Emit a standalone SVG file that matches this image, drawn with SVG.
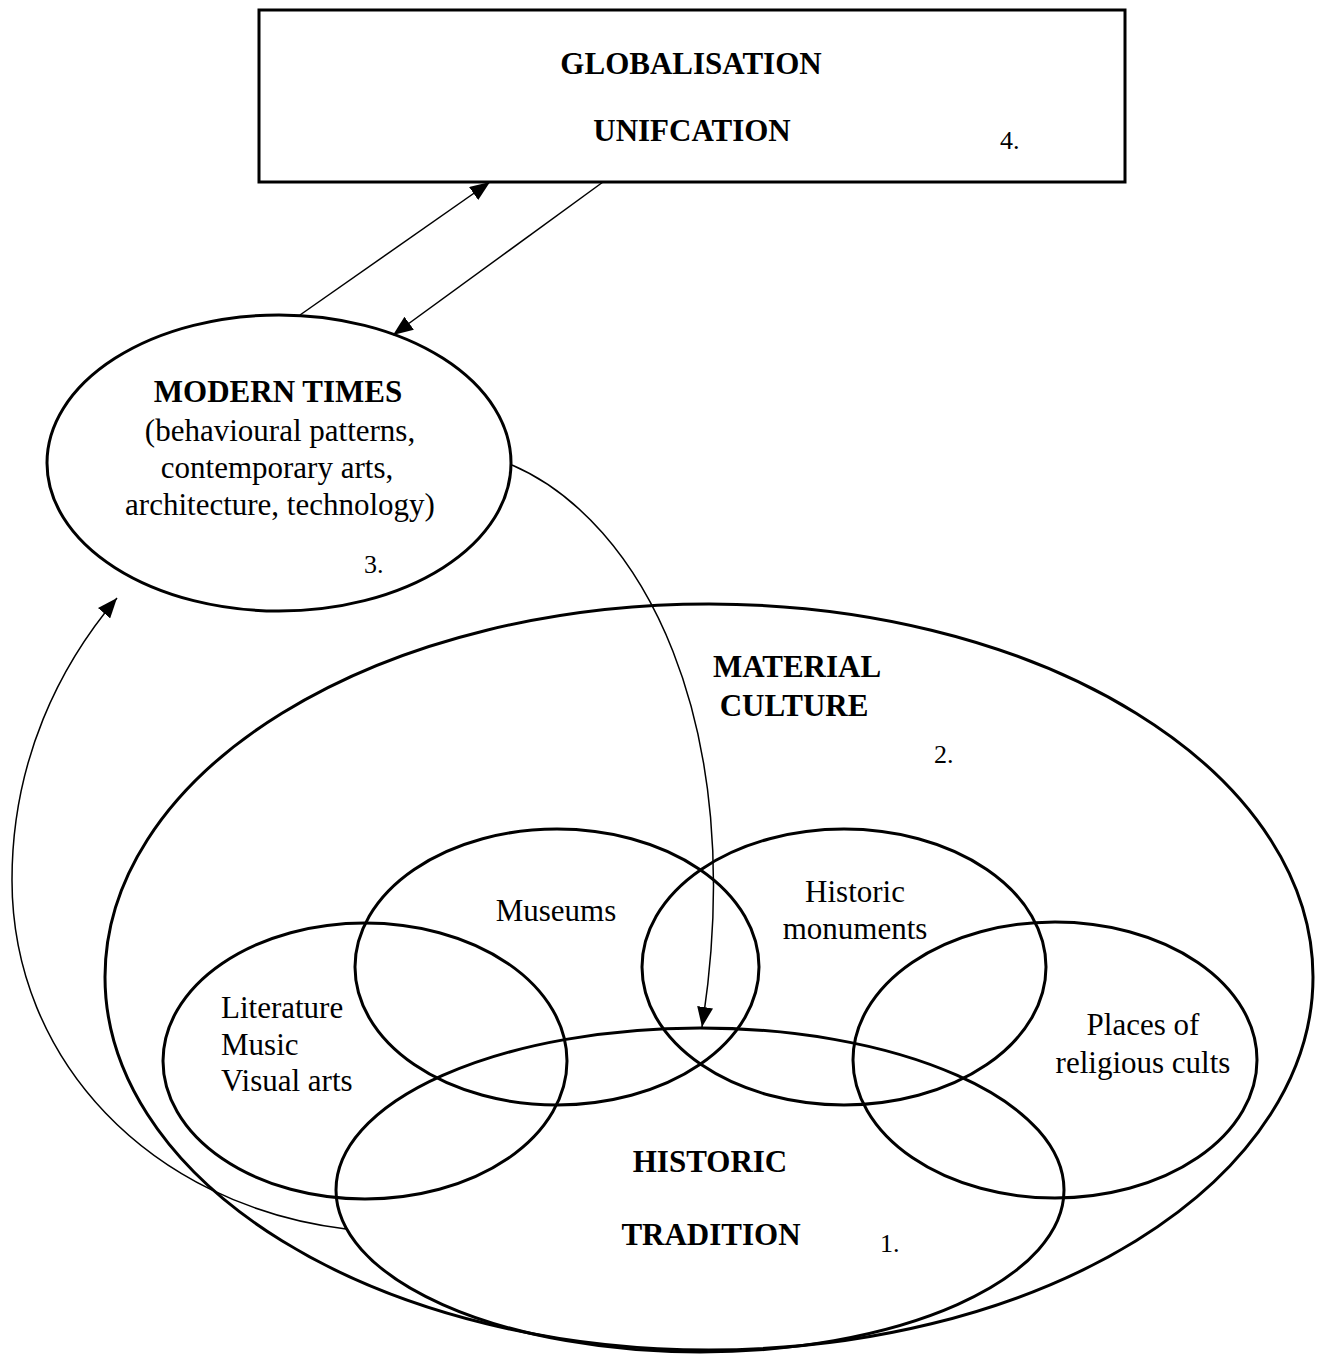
<svg xmlns="http://www.w3.org/2000/svg" width="1327" height="1356" viewBox="0 0 1327 1356">
  <defs>
    <marker id="arrow" viewBox="0 0 20 16" refX="20" refY="8" markerWidth="20" markerHeight="16" markerUnits="userSpaceOnUse" orient="auto">
      <path d="M0,0 L20,8 L0,16 z" fill="#000"/>
    </marker>
    <style>
      .shape { fill: none; stroke: #000; stroke-width: 3; }
      .link { fill: none; stroke: #000; stroke-width: 1.5; marker-end: url(#arrow); }
      text { font-family: "Liberation Serif", "Times New Roman", serif; fill: #000; }
      .t { font-size: 31px; text-anchor: middle; }
      .l { font-size: 31px; text-anchor: start; }
      .b { font-weight: bold; }
      .num { font-size: 26px; }
    </style>
  </defs>
  <rect width="1327" height="1356" fill="#fff"/>

  <g id="globalisation">
    <rect class="shape" x="259" y="10" width="866" height="172"/>
    <text class="t b" x="691" y="74">GLOBALISATION</text>
    <text class="t b" x="692" y="141">UNIFCATION</text>
    <text class="num" x="1000" y="149">4.</text>
  </g>

  <g id="modern-times">
    <ellipse class="shape" cx="279" cy="463" rx="232" ry="148"/>
    <text class="t b" x="278" y="402">MODERN TIMES</text>
    <text class="t" x="280" y="441">(behavioural patterns,</text>
    <text class="t" x="277" y="478">contemporary arts,</text>
    <text class="t" x="280" y="515">architecture, technology)</text>
    <text class="num" x="364" y="573">3.</text>
  </g>

  <g id="material-culture">
    <ellipse class="shape" cx="709" cy="977" rx="604" ry="373"/>
    <text class="t b" x="797" y="677">MATERIAL</text>
    <text class="t b" x="794" y="716">CULTURE</text>
    <text class="num" x="934" y="763">2.</text>
  </g>

  <g id="museums">
    <ellipse class="shape" cx="557" cy="967" rx="202" ry="138"/>
    <text class="t" x="556" y="921">Museums</text>
  </g>

  <g id="historic-monuments">
    <ellipse class="shape" cx="844" cy="967" rx="202" ry="138"/>
    <text class="t" x="855" y="902">Historic</text>
    <text class="t" x="855" y="939">monuments</text>
  </g>

  <g id="literature-music-arts">
    <ellipse class="shape" cx="365" cy="1061" rx="202" ry="138"/>
    <text class="l" x="221" y="1018">Literature</text>
    <text class="l" x="221" y="1055">Music</text>
    <text class="l" x="221" y="1091">Visual arts</text>
  </g>

  <g id="religious-places">
    <ellipse class="shape" cx="1055" cy="1060" rx="202" ry="138"/>
    <text class="t" x="1143" y="1035">Places of</text>
    <text class="t" x="1143" y="1073">religious cults</text>
  </g>

  <g id="historic-tradition">
    <ellipse class="shape" cx="700" cy="1190" rx="364" ry="162"/>
    <text class="t b" x="710" y="1172">HISTORIC</text>
    <text class="t b" x="711" y="1245">TRADITION</text>
    <text class="num" x="880" y="1252">1.</text>
  </g>

  <g id="connectors">
    <line class="link" x1="300" y1="315" x2="490" y2="182"/>
    <line class="link" x1="603" y1="182" x2="393" y2="335"/>
    <path class="link" d="M512,465 C640,520 750,720 702,1027"/>
    <path class="link" d="M346,1229 C150,1205 12,1060 12,880 C12,760 60,665 117,598"/>
  </g>
</svg>
